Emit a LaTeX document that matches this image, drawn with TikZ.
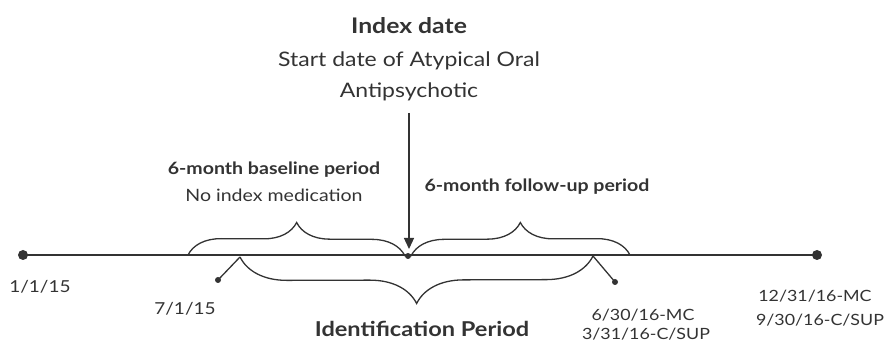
\documentclass[tikz,border=0pt]{standalone}
\usepackage{fontspec}
\setmainfont{Lato}[FakeStretch=1.15]
\usetikzlibrary{arrows.meta,decorations.pathreplacing}
\begin{document}
\begin{tikzpicture}[x=1pt,y=-1pt,color=black!80,line width=1.3pt,
  lbl/.style={anchor=base,font=\fontsize{15.5}{19}\selectfont},
  head/.style={anchor=base,font=\fontsize{20}{24}\selectfont},
  brc/.style={decorate,decoration={brace,amplitude=#1}}]
\useasboundingbox (0,0) rectangle (887,344);
\coordinate (dstart) at (23,255);
\coordinate (dend) at (817,255);
\coordinate (didx) at (408,256);
\coordinate (dbase) at (240,257);
\coordinate (dfol) at (593,256);
\coordinate (bl) at (188,255);
\coordinate (br) at (630,255);
\coordinate (arrtop) at (409,113);
\coordinate (arrtip) at (409,249);
\draw (dstart) -- (dend);
\fill (dstart) circle[radius=5pt];
\fill (dend) circle[radius=5pt];
\fill (didx) circle[radius=3pt];
\fill (218,280) circle[radius=3pt] coordinate (tbase);
\fill (615,282) circle[radius=3pt] coordinate (tfol);
\draw (dbase) -- (tbase);
\draw (dfol) -- (tfol);
\draw[brc=33pt] (bl) -- ([xshift=-3pt]didx);
\draw[brc=33pt] ([xshift=3pt]didx) -- (br);
\draw[brc=47pt,decoration={mirror}] (dbase) -- (dfol);
\draw[-{Triangle[width=10pt,length=11pt]}] (arrtop) -- (arrtip);
\node[head,font=\bfseries\fontsize{21.5}{24}\selectfont] (idxdate) at (409,34) {Index date};
\node[head] (startdate) at (409,67) {Start date of Atypical Oral};
\node[head] (drug) at (409,98) {Antipsychotic};
\node[lbl,font=\bfseries\fontsize{17}{20}\selectfont] (baseper) at (274,175) {6-month baseline period};
\node[lbl,font=\fontsize{17}{20}\selectfont] (noidx) at (274,202) {No index medication};
\node[lbl,font=\bfseries\fontsize{17}{20}\selectfont] (folper) at (537,192) {6-month follow-up period};
\node[lbl,font=\fontsize{16.5}{20}\selectfont] (l115) at (40,293) {1/1/15};
\node[lbl,font=\fontsize{16.5}{20}\selectfont] (l715) at (185,315) {7/1/15};
\node[head,font=\bfseries\fontsize{20.5}{24}\selectfont] (idper) at (422,337) {Identification Period};
\node[lbl] (l6mc) at (643,321) {6/30/16-MC};
\node[lbl] (l3c) at (646,340) {3/31/16-C/SUP};
\node[lbl] (l12mc) at (815,302) {12/31/16-MC};
\node[lbl] (l9c) at (820,326) {9/30/16-C/SUP};
\end{tikzpicture}
\end{document}
